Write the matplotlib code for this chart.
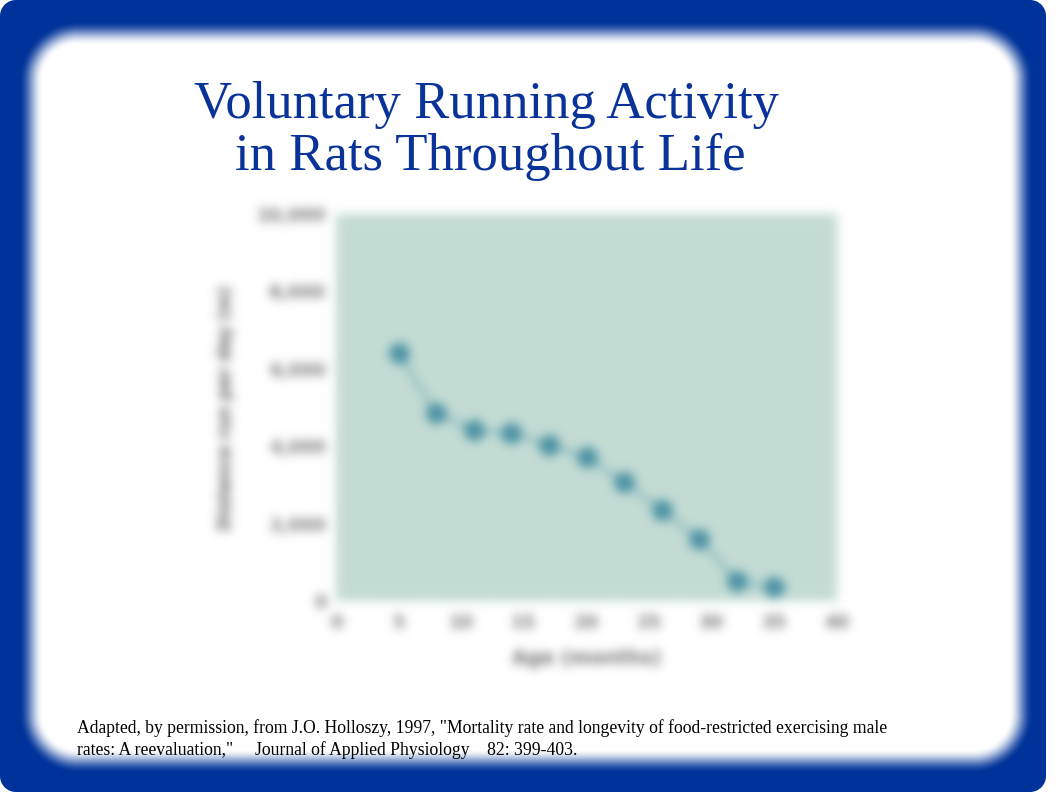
import numpy as np
import matplotlib
matplotlib.use("Agg")
import matplotlib.pyplot as plt
from matplotlib.ticker import FuncFormatter

# ---------------- data ----------------
title_lines = ["Voluntary Running Activity", "in Rats Throughout Life"]
age_months = [5, 8, 11, 14, 17, 20, 23, 26, 29, 32, 35]
distance_m_per_day = [6400, 4850, 4420, 4330, 4030, 3720, 3070, 2340, 1600, 520, 350]
x_ticks = [0, 5, 10, 15, 20, 25, 30, 35, 40]
y_ticks = [0, 2000, 4000, 6000, 8000, 10000]
x_label = "Age (months)"
y_label = "Distance run per day (m)"
footnote_1 = ('Adapted, by permission, from J.O. Holloszy, 1997, "Mortality rate and longevity '
              'of food-restricted exercising male')
footnote_2 = 'rates: A reevaluation,"     Journal of Applied Physiology    82: 399-403.'

W, H = 1062, 797
BLUE = np.array([0.0, 0.2, 0.6])

fig = plt.figure(figsize=(W / 100, H / 100), dpi=100)
fig.patch.set_facecolor("white")


# ---------------- slide frame background ----------------
def sd_round_box(px, py, x0, y0, x1, y1, r):
    cx, cy = (x0 + x1) / 2, (y0 + y1) / 2
    bx, by = (x1 - x0) / 2, (y1 - y0) / 2
    qx = np.abs(px - cx) - bx + r
    qy = np.abs(py - cy) - by + r
    outside = np.hypot(np.maximum(qx, 0), np.maximum(qy, 0))
    inside = np.minimum(np.maximum(qx, qy), 0)
    return outside + inside - r


yy, xx = np.mgrid[0:H, 0:W] + 0.5
sd_outer = sd_round_box(xx, yy, 0, 0, 1046, 792, 16)
sd_inner = sd_round_box(xx, yy, 42, 44, 1010, 750, 36)
t = np.clip((sd_inner + 1) / 24.0, 0, 1)
s = t * t * (3 - 2 * t)
img = (1 - s)[..., None] * np.ones(3) + s[..., None] * BLUE
a_out = np.clip(0.5 - sd_outer, 0, 1)[..., None]
img = a_out * img + (1 - a_out) * np.ones(3)

bg = fig.add_axes([0, 0, 1, 1], zorder=-10)
bg.imshow(img, aspect="auto", interpolation="bilinear")
bg.set_axis_off()


# ---------------- blur filter (the reference chart is blurred) ----------------
def make_blur(sigma):
    def f(im, dpi):
        sg = sigma * dpi / 100.0
        r = int(3 * sg) + 1
        k = np.exp(-0.5 * (np.arange(-r, r + 1) / sg) ** 2)
        k /= k.sum()
        a = im[..., 3:4]
        pre = np.concatenate([im[..., :3] * a, a], axis=2)
        p = np.pad(pre, ((2 * r, 2 * r), (2 * r, 2 * r), (0, 0)))
        n0 = p.shape[0] - 2 * r
        o = np.zeros((n0, p.shape[1], 4))
        for i, w in enumerate(k):
            o += w * p[i:i + n0]
        n1 = o.shape[1] - 2 * r
        o2 = np.zeros((n0, n1, 4))
        for i, w in enumerate(k):
            o2 += w * o[:, i:i + n1]
        al = o2[..., 3:4]
        rgb = np.where(al > 1e-6, o2[..., :3] / np.maximum(al, 1e-6), 0)
        out = np.concatenate([np.clip(rgb, 0, 1), np.clip(al, 0, 1)], axis=2)
        return out, -r, -r
    return f


# ---------------- chart ----------------
ax = fig.add_axes([336 / W, 1 - 601 / H, 501 / W, 387 / H])
ax.set_facecolor("#c3dcd4")
for sp in ax.spines.values():
    sp.set_visible(False)
ax.plot(age_months, distance_m_per_day, color="#5898a9", lw=1.6,
        marker="o", ms=14, mfc="#4b91a4", mec="#4b91a4", clip_on=False)
ax.set_xlim(0, 40)
ax.set_ylim(0, 10000)
ax.set_xticks(x_ticks)
ax.set_yticks(y_ticks)
ax.yaxis.set_major_formatter(FuncFormatter(lambda v, p: f"{int(v):,}"))
ax.tick_params(length=0, labelsize=13, labelcolor="#777777")
ax.tick_params(axis="x", pad=9)
ax.tick_params(axis="y", pad=7)
for lab in ax.get_xticklabels() + ax.get_yticklabels():
    lab.set_fontweight("bold")
ax.set_xlabel(x_label, fontsize=14, color="#707070", fontweight="bold", va="center")
ax.set_ylabel(y_label, fontsize=12.5, color="#606060", fontweight="bold", va="center")
ax.xaxis.set_label_coords(0.5, (601 - 658) / 387)
ax.yaxis.set_label_coords((226 - 336) / 501, 0.5)
ax.set_agg_filter(make_blur(5.0))

# ---------------- title & footnote ----------------
fig.text(487 / W, 1 - 118 / H, title_lines[0], ha="center", va="baseline",
         family="Liberation Serif", fontsize=38, color="#0a3399")
fig.text(490 / W, 1 - 170 / H, title_lines[1], ha="center", va="baseline",
         family="Liberation Serif", fontsize=38, color="#0a3399")
fig.text(77 / W, 1 - 733 / H, footnote_1, ha="left", va="baseline",
         family="Liberation Serif", fontsize=12.7, color="black")
fig.text(77 / W, 1 - 755 / H, footnote_2, ha="left", va="baseline",
         family="Liberation Serif", fontsize=12.7, color="black")

fig.savefig("out.png", dpi=100)
